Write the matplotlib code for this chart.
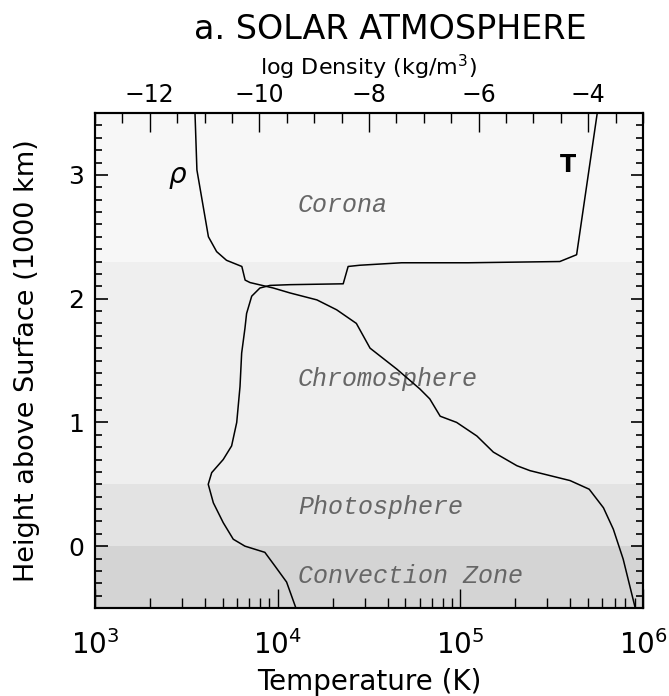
import numpy as np
import matplotlib
matplotlib.use('Agg')
import matplotlib.pyplot as plt
from matplotlib.ticker import MultipleLocator

# Temperature profile (log10 T in K) vs height (1000 km)
t_height = [3.50, 2.355, 2.30, 2.29, 2.29, 2.27, 2.26, 2.12, 2.113, 2.107, 2.086,
            2.02, 1.88, 1.76, 1.56, 1.29, 1.00, 0.81, 0.70, 0.594, 0.50, 0.35,
            0.19, 0.056, 0.0, -0.05, -0.16, -0.29, -0.50]
t_logT = [5.75, 5.637, 5.545, 5.043, 4.679, 4.450, 4.386, 4.359, 4.067, 3.958, 3.903,
          3.858, 3.830, 3.821, 3.803, 3.794, 3.776, 3.748, 3.702, 3.639, 3.620, 3.648,
          3.702, 3.757, 3.821, 3.930, 3.985, 4.049, 4.100]

# Density profile (log10 rho in kg/m^3) vs height
rho_height = [3.50, 3.04, 2.50, 2.38, 2.31, 2.26, 2.15, 2.13, 2.086, 2.046, 1.99,
              1.91, 1.80, 1.60, 1.43, 1.27, 1.19, 1.05, 1.00, 0.89, 0.76, 0.65,
              0.61, 0.53, 0.46, 0.31, 0.137, -0.105, -0.50]
rho_log = [-11.175, -11.14, -10.93, -10.78, -10.60, -10.32, -10.26, -10.17, -9.746, -9.44, -8.95,
           -8.59, -8.23, -7.98, -7.49, -7.07, -6.89, -6.70, -6.40, -6.03, -5.73, -5.30,
           -5.06, -4.33, -3.98, -3.72, -3.54, -3.36, -3.14]

# atmosphere layers
layers = ['Convection Zone', 'Photosphere', 'Chromosphere', 'Corona']
layer_bottom = [-0.5, 0.0, 0.5, 2.3]
layer_top = [0.0, 0.5, 2.3, 3.5]
layer_color = ['#d4d4d4', '#e3e3e3', '#efefef', '#f7f7f7']
label_y = [-0.24, 0.315, 1.35, 2.76]

fig = plt.figure(figsize=(6.69, 6.96), dpi=100)
ax = fig.add_axes([0.142, 0.1264, 0.819, 0.7112])

for name, b, t, c, ly in zip(layers, layer_bottom, layer_top, layer_color, label_y):
    ax.axhspan(b, t, color=c, lw=0, zorder=0)
    ax.text(10**4.111, ly, name, ha='left', va='center', family='Liberation Mono',
            style='italic', fontsize=18, color='#666666')

ax.plot(10**np.array(t_logT), t_height, color='black', lw=1.1)
ax.set_xscale('log')
ax.set_xlim(1e3, 1e6)
ax.set_ylim(-0.5, 3.5)
ax.yaxis.set_major_locator(MultipleLocator(1))
ax.yaxis.set_minor_locator(MultipleLocator(0.1))
ax.tick_params(which='both', direction='in', right=True)
ax.tick_params(axis='x', which='major', length=14, width=1)
ax.tick_params(axis='x', which='minor', length=7, width=1)
ax.tick_params(axis='y', which='major', length=9, width=1.2, labelsize=18, pad=8)
ax.tick_params(axis='y', which='minor', length=5, width=1.2)
ax.tick_params(axis='x', labelsize=20, pad=16)
ax.set_xlabel('Temperature (K)', fontsize=20, labelpad=6)
ax.set_ylabel('Height above Surface (1000 km)', fontsize=19.5, labelpad=20)

ax2 = ax.twiny()
ax2.plot(rho_log, rho_height, color='black', lw=1.1)
ax2.set_xlim(-13, -3)
ax2.xaxis.set_major_locator(MultipleLocator(2))
ax2.xaxis.set_minor_locator(MultipleLocator(0.5))
ax2.tick_params(which='both', direction='in', labelsize=17, pad=4)
ax2.tick_params(which='major', length=14, width=1)
ax2.tick_params(which='minor', length=7, width=1)
ax2.set_xlabel('log Density (kg/m$^3$)', fontsize=16, labelpad=6)

for a in (ax, ax2):
    for s in a.spines.values():
        s.set_linewidth(1.5)

ax.text(10**3.45, 2.98, r'$\rho$', ha='center', va='center', fontsize=20)
ax.text(10**5.59, 3.08, 'T', ha='center', va='center', fontsize=17, fontweight='bold')

fig.text(0.583, 0.958, 'a. SOLAR ATMOSPHERE', ha='center', va='center', fontsize=24)

fig.savefig('out.png', dpi=100)
